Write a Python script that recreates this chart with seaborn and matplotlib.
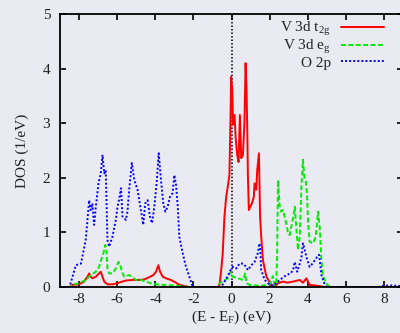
import matplotlib
matplotlib.use("Agg")
import matplotlib.pyplot as plt
import seaborn as sns
import pandas as pd

# Energy grids (eV, relative to E_F) and projected DOS (states/eV)
e_t2g = [-9.0, -8.5, -8.35, -8.0, -7.74, -7.56, -7.47, -7.39, -7.3, -7.12, -6.95, -6.86,
         -6.77, -6.68, -6.51, -6.25, -6.0, -5.54, -5.19, -4.84, -4.58, -4.32, -4.1, -3.96,
         -3.84, -3.75, -3.61, -3.44, -3.18, -2.91, -2.74, -2.47, -2.2, -0.7, -0.63, -0.54,
         -0.46, -0.37, -0.28, -0.19, -0.11, -0.05, -0.02, 0.04, 0.08, 0.16, 0.22, 0.3, 0.37,
         0.44, 0.51, 0.6, 0.68, 0.74, 0.79, 0.83, 0.86, 0.91, 0.98, 1.07, 1.17, 1.21, 1.3,
         1.35, 1.44, 1.5, 1.56, 1.65, 1.83, 2.09, 2.3, 2.44, 2.7, 2.95, 3.23, 3.58, 3.75,
         3.93, 4.1, 4.6, 4.9, 9.0]
dos_t2g = [0.0, 0.0, 0.04, 0.05, 0.10, 0.19, 0.25, 0.19, 0.16, 0.19, 0.25, 0.28,
           0.19, 0.10, 0.05, 0.05, 0.07, 0.12, 0.13, 0.13, 0.14, 0.18, 0.22, 0.28,
           0.40, 0.28, 0.19, 0.16, 0.13, 0.08, 0.04, 0.02, 0.0, 0.0, 0.04, 0.31,
           0.62, 1.29, 1.65, 1.85, 2.05, 3.12, 3.85, 3.61, 2.97, 3.15, 2.72, 2.42, 2.29,
           3.15, 2.36, 2.42, 3.03, 4.1, 3.6, 2.84, 2.05, 1.41, 1.47, 1.53, 1.65, 1.90, 1.78,
           2.14, 2.45, 1.29, 0.92, 0.49, 0.19, 0.04, 0.02, 0.07, 0.10, 0.08, 0.10, 0.13, 0.08,
           0.16, 0.04, 0.02, 0.0, 0.0]

e_eg = [-9.0, -8.5, -8.35, -8.0, -7.65, -7.38, -7.12, -6.95, -6.81, -6.72, -6.63, -6.56,
        -6.51, -6.42, -6.25, -6.07, -5.93, -5.84, -5.75, -5.63, -5.37, -5.23, -5.02, -4.75,
        -4.49, -4.23, -3.96, -3.61, -3.09, -2.5, -2.2, -0.7, -0.63, -0.19, -0.05, 0.07,
        0.33, 0.6, 0.72, 0.79, 0.95, 1.5, 2.0, 2.09, 2.17, 2.26, 2.35, 2.39, 2.44, 2.52,
        2.61, 2.7, 2.83, 2.96, 3.05, 3.23, 3.32, 3.4, 3.49, 3.58, 3.67, 3.75, 3.82, 3.89,
        3.96, 4.02, 4.1, 4.28, 4.42, 4.54, 4.63, 4.72, 4.81, 4.98, 5.1, 5.3, 9.0]
dos_eg = [0.0, 0.0, 0.04, 0.07, 0.13, 0.22, 0.28, 0.37, 0.53, 0.62, 0.77, 0.68,
          0.34, 0.25, 0.25, 0.34, 0.46, 0.40, 0.28, 0.19, 0.22, 0.19, 0.13, 0.13,
          0.10, 0.07, 0.05, 0.04, 0.03, 0.01, 0.0, 0.0, 0.07, 0.16, 0.28, 0.19,
          0.16, 0.13, 0.25, 0.07, 0.04, 0.02, 0.05, 0.13, 0.20, 0.03, 0.10, 0.49, 1.96, 1.5,
          1.38, 1.41, 1.23, 1.01, 0.95, 1.26, 1.47, 1.10, 0.68, 0.92, 1.84, 2.33, 2.02, 1.96,
          1.72, 1.17, 0.83, 0.80, 0.92, 1.38, 1.10, 0.49, 0.19, 0.07, 0.02, 0.0, 0.0]

e_o2p = [-9.0, -8.5, -8.17, -7.9, -7.65, -7.47, -7.39, -7.3, -7.21, -7.12, -6.98, -6.86,
         -6.77, -6.68, -6.6, -6.51, -6.42, -6.25, -6.07, -5.98, -5.89, -5.8, -5.72, -5.54,
         -5.46, -5.37, -5.23, -5.1, -4.93, -4.84, -4.7, -4.63, -4.53, -4.4, -4.28, -4.17,
         -4.05, -3.93, -3.82, -3.7, -3.58, -3.47, -3.35, -3.23, -3.09, -3.0, -2.91, -2.82,
         -2.74, -2.56, -2.39, -2.21, -2.07, -2.0, -0.6, -0.45, -0.2, -0.05, 0.07, 0.25,
         0.42, 0.6, 0.77, 0.86, 1.04, 1.21, 1.38, 1.47, 1.51, 1.56, 1.74, 2.0, 2.2, 2.53,
         2.88, 3.1, 3.23, 3.32, 3.45, 3.6, 3.67, 3.75, 3.82, 3.93, 4.1, 4.25, 4.37, 4.49,
         4.6, 4.72, 4.9, 5.0, 7.7, 7.9, 8.3, 8.8, 9.0]
dos_o2p = [0.0, 0.0, 0.40, 0.43, 0.86, 1.59, 1.41, 1.53, 1.14, 1.47, 1.90, 2.08,
           2.42, 2.08, 2.14, 0.86, 0.74, 0.92, 1.23, 1.47, 1.62, 1.81, 1.29, 1.23,
           1.38, 1.78, 2.27, 1.96, 1.78, 1.59, 1.29, 1.14, 1.53, 1.59, 1.29, 1.17,
           1.47, 1.90, 2.45, 1.96, 1.53, 1.38, 1.47, 1.65, 1.72, 2.05, 1.87, 1.47,
           0.92, 0.62, 0.37, 0.19, 0.04, 0.0, 0.0, 0.05, 0.20, 0.31, 0.37, 0.34,
           0.43, 0.43, 0.37, 0.31, 0.40, 0.46, 0.62, 0.80, 0.70, 0.31, 0.13, 0.04, 0.03, 0.13,
           0.22, 0.25, 0.31, 0.46, 0.28, 0.45, 0.55, 0.80, 0.72, 0.55, 0.37, 0.43, 0.49, 0.55,
           0.59, 0.22, 0.04, 0.0, 0.0, 0.02, 0.03, 0.02, 0.02]

x_ticks = [-8, -6, -4, -2, 0, 2, 4, 6, 8]
y_ticks = [0, 1, 2, 3, 4, 5]

sns.set_theme(style="dark")
bg = "#eaeaf2"
plt.rcParams.update({
    "font.family": ["Liberation Serif", "DejaVu Serif"],
    "mathtext.fontset": "custom",
    "mathtext.rm": "Liberation Serif",
    "mathtext.it": "Liberation Serif:italic",
    "axes.unicode_minus": False,
    "axes.edgecolor": "black",
    "axes.linewidth": 1.3,
})

fig = plt.figure(figsize=(4.0, 3.33), dpi=100, facecolor=bg)
ax = fig.add_axes([0.15, 0.138, 0.8575, 0.82])
ax.set_facecolor(bg)

df_t2g = pd.DataFrame({"E": e_t2g, "DOS": dos_t2g})
df_eg = pd.DataFrame({"E": e_eg, "DOS": dos_eg})
df_o2p = pd.DataFrame({"E": e_o2p, "DOS": dos_o2p})

ax.axvline(0, color="black", linestyle=(0, (1, 1.3)), linewidth=1.1, zorder=1)
sns.lineplot(data=df_t2g, x="E", y="DOS", ax=ax, color="#ff0000", linewidth=1.4,
             estimator=None, label=r"V 3d t$_{\mathrm{2g}}$")
sns.lineplot(data=df_eg, x="E", y="DOS", ax=ax, color="#00ee00", linewidth=1.4,
             linestyle=(0, (2.5, 1.3)), estimator=None, label=r"V 3d e$_{\mathrm{g}}$")
sns.lineplot(data=df_o2p, x="E", y="DOS", ax=ax, color="#0000ff", linewidth=1.4,
             linestyle=(0, (1, 1.1)), estimator=None, label="O 2p")

ax.set_xlim(-9, 9)
ax.set_ylim(0, 5)
ax.set_xticks(x_ticks)
ax.set_yticks(y_ticks)
ax.tick_params(axis="both", which="major", direction="in", length=4.5, width=1.2,
               top=True, right=True, bottom=True, left=True, labelsize=11,
               colors="black", labelcolor="#222222")
ax.tick_params(axis="x", pad=4)
ax.tick_params(axis="y", pad=7)
for side in ["left", "right", "top", "bottom"]:
    ax.spines[side].set_visible(True)
    ax.spines[side].set_color("black")

ax.set_xlabel(r"(E - E$_{\mathrm{F}}$) (eV)", fontsize=11, color="#222222", labelpad=2)
ax.set_ylabel("DOS (1/eV)", fontsize=11, color="#222222", labelpad=10)

leg = ax.legend(loc="upper right", bbox_to_anchor=(0.945, 0.978), frameon=False,
                markerfirst=False, fontsize=11, handlelength=2.8, handletextpad=0.7,
                labelspacing=0.0, borderpad=0, borderaxespad=0)
for t in leg.get_texts():
    t.set_ha("right")
    t.set_color("#222222")

fig.savefig("out.png", dpi=100, facecolor=bg)
